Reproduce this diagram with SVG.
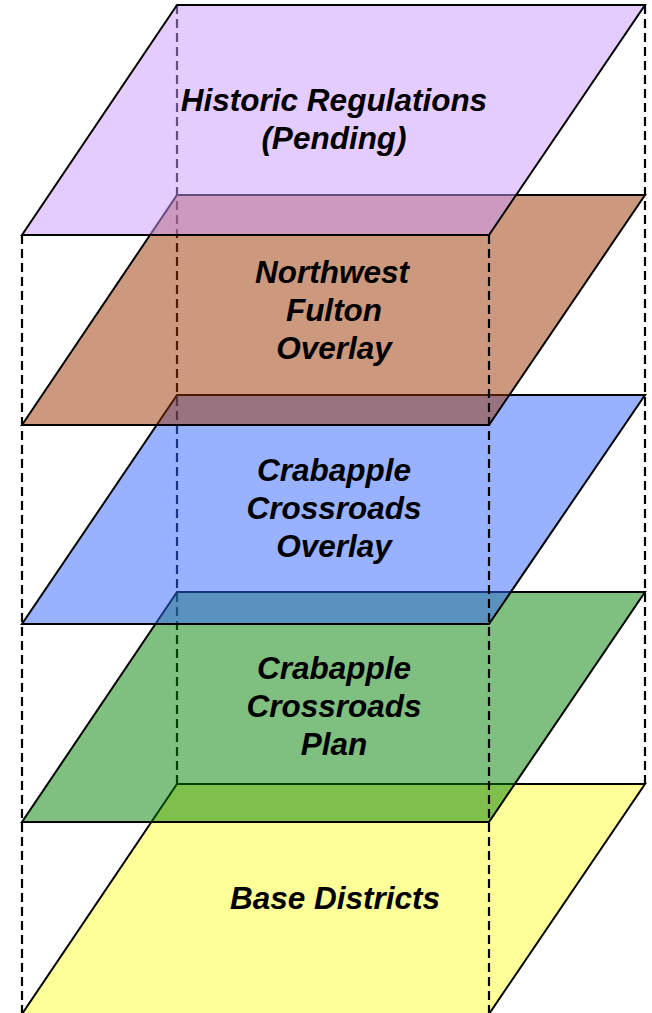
<svg xmlns="http://www.w3.org/2000/svg" width="652" height="1013" viewBox="0 0 652 1013">
<style>
.dash{stroke:#000;stroke-width:2.2;stroke-dasharray:9 5;fill:none}
.layer{stroke:#000;stroke-width:2;stroke-linejoin:miter}
.lbl{font-family:"Liberation Sans",Arial,sans-serif;font-weight:bold;font-style:italic;font-size:31.5px;fill:#000;text-anchor:middle}
</style>
<rect x="0" y="0" width="652" height="1013" fill="#fff"/>
<g id="connectors-back">
<line class="dash" x1="177" y1="5" x2="177" y2="784"/>
<line class="dash" x1="645" y1="5" x2="645" y2="784"/>
</g>
<g id="layer-base">
<polygon class="layer" points="177,784 645,784 489,1014 22,1014" fill="#FFFF99"/>
</g>
<g id="layer-plan">
<polygon class="layer" points="177,592 645,592 489,822 22,822" fill="#008000" fill-opacity="0.5"/>
</g>
<g id="layer-crossroads-overlay">
<polygon class="layer" points="177,395 645,395 489,624 22,624" fill="#3366FF" fill-opacity="0.5"/>
</g>
<g id="layer-northwest">
<polygon class="layer" points="177,195 645,195 489,425 22,425" fill="#993300" fill-opacity="0.5"/>
</g>
<g id="layer-historic">
<polygon class="layer" points="177,5 645,5 489,235 22,235" fill="#CC99FF" fill-opacity="0.5"/>
</g>
<g id="connectors-front">
<line class="dash" x1="22" y1="235" x2="22" y2="1013"/>
<line class="dash" x1="489" y1="235" x2="489" y2="1013"/>
</g>
<g id="labels">
<text class="lbl" x="334" y="111">Historic Regulations</text>
<text class="lbl" x="334" y="149">(Pending)</text>
<text class="lbl" x="332" y="283">Northwest</text>
<text class="lbl" x="334" y="321">Fulton</text>
<text class="lbl" x="334" y="359">Overlay</text>
<text class="lbl" x="334" y="481">Crabapple</text>
<text class="lbl" x="334" y="519">Crossroads</text>
<text class="lbl" x="334" y="557">Overlay</text>
<text class="lbl" x="334" y="679">Crabapple</text>
<text class="lbl" x="334" y="717">Crossroads</text>
<text class="lbl" x="334" y="755">Plan</text>
<text class="lbl" x="335" y="909">Base Districts</text>
</g>
</svg>
